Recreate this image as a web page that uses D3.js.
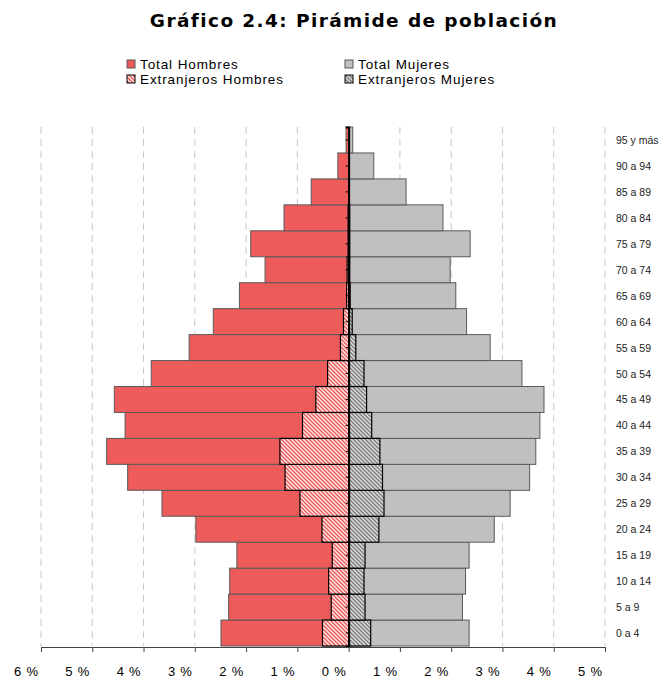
<!DOCTYPE html>
<html>
<head>
<meta charset="utf-8">
<script src="https://cdn.jsdelivr.net/npm/d3@7"></script>
<style>
  body { margin: 0; background: #fff; }
  svg { display: block; }
</style>
</head>
<body>
<div id="chart"></div>
<script>
// age groups, bottom to top
var ageGroups = ["0 a 4","5 a 9","10 a 14","15 a 19","20 a 24","25 a 29","30 a 34","35 a 39","40 a 44","45 a 49",
                 "50 a 54","55 a 59","60 a 64","65 a 69","70 a 74","75 a 79","80 a 84","85 a 89","90 a 94","95 y más"];
// % of population
var totalHombres = [2.49,2.34,2.32,2.18,2.98,3.64,4.31,4.72,4.36,4.57,3.85,3.11,2.64,2.13,1.63,1.91,1.26,0.73,0.21,0.05];
var extHombres   = [0.51,0.34,0.39,0.32,0.52,0.95,1.24,1.34,0.90,0.64,0.41,0.16,0.10,0.04,0.03,0.01,0.01,0.00,0.00,0.00];
var totalMujeres = [2.35,2.22,2.28,2.35,2.84,3.15,3.53,3.65,3.73,3.81,3.38,2.76,2.30,2.09,1.98,2.37,1.84,1.12,0.49,0.08];
var extMujeres   = [0.43,0.32,0.30,0.32,0.59,0.69,0.66,0.61,0.45,0.35,0.30,0.14,0.07,0.03,0.02,0.02,0.02,0.01,0.00,0.00];
var tickVals   = [-6,-5,-4,-3,-2,-1,0,1,2,3,4,5];
var tickLabels = ["6 %","5 %","4 %","3 %","2 %","1 %","0 %","1 %","2 %","3 %","4 %","5 %"];

var W = 663, H = 678;
var svg = d3.select("#chart").append("svg").attr("width", W).attr("height", H);

var red = "#ee5b5b", grey = "#c0c0c0", darkGrey = "#808080";

// hatch patterns
var defs = svg.append("defs");
function hatch(id, bg, fg) {
  var p = defs.append("pattern").attr("id", id)
    .attr("patternUnits", "userSpaceOnUse").attr("width", 4).attr("height", 4);
  p.append("rect").attr("width", 4).attr("height", 4).attr("fill", bg);
  p.append("path").attr("d", "M-1,3 l2,2 M0,0 l4,4 M3,-1 l2,2")
    .attr("stroke", fg).attr("stroke-width", 1.3);
}
hatch("hatchRed", red, "#fff0f0");
hatch("hatchGrey", darkGrey, "#e0e0e0");

var x = d3.scaleLinear().domain([-6, 5]).range([41, 605]);
var y = d3.scaleBand().domain(ageGroups.slice().reverse()).range([127, 646]).padding(0);

// title
svg.append("text").attr("x", 354).attr("y", 27).attr("text-anchor", "middle")
  .style("font-family", "DejaVu Sans, Verdana, sans-serif").style("font-weight", "bold")
  .style("font-size", "18.5px").style("letter-spacing", "1.4px")
  .text("Gráfico 2.4: Pirámide de población");

// legend
var legendItems = [
  {name: "Total Hombres", fill: red, stroke: "#555", cx: 127, cy: 60},
  {name: "Extranjeros Hombres", fill: "url(#hatchRed)", stroke: "#000", cx: 127, cy: 75},
  {name: "Total Mujeres", fill: grey, stroke: "#555", cx: 345, cy: 60},
  {name: "Extranjeros Mujeres", fill: "url(#hatchGrey)", stroke: "#000", cx: 345, cy: 75}
];
var lg = svg.append("g").selectAll("g").data(legendItems).join("g");
lg.append("rect").attr("x", d => d.cx).attr("y", d => d.cy)
  .attr("width", 8).attr("height", 8).attr("fill", d => d.fill).attr("stroke", d => d.stroke).attr("stroke-width", 1);
lg.append("text").attr("x", d => d.cx + 13).attr("y", d => d.cy + 9)
  .style("font-family", "Liberation Sans, Arial, sans-serif").style("font-size", "13.5px")
  .style("letter-spacing", "0.9px").text(d => d.name);

// dashed gridlines
svg.append("g").selectAll("line").data(tickVals.filter(d => d !== 0)).join("line")
  .attr("x1", d => x(d)).attr("x2", d => x(d)).attr("y1", 127).attr("y2", 646)
  .attr("stroke", "#c8c8c8").attr("stroke-width", 1).attr("stroke-dasharray", "7,5");

var idx = d3.range(ageGroups.length);
var bars = svg.append("g");

bars.selectAll(".th").data(idx).join("rect").attr("class", "th")
  .attr("x", i => x(-totalHombres[i])).attr("y", i => y(ageGroups[i]))
  .attr("width", i => x(0) - x(-totalHombres[i])).attr("height", y.bandwidth())
  .attr("fill", red).attr("stroke", "#5a5a5a").attr("stroke-width", 1);

bars.selectAll(".tm").data(idx).join("rect").attr("class", "tm")
  .attr("x", x(0)).attr("y", i => y(ageGroups[i]))
  .attr("width", i => x(totalMujeres[i]) - x(0)).attr("height", y.bandwidth())
  .attr("fill", grey).attr("stroke", "#5a5a5a").attr("stroke-width", 1);

bars.selectAll(".eh").data(idx.filter(i => extHombres[i] > 0)).join("rect").attr("class", "eh")
  .attr("x", i => x(-extHombres[i])).attr("y", i => y(ageGroups[i]))
  .attr("width", i => x(0) - x(-extHombres[i])).attr("height", y.bandwidth())
  .attr("fill", "url(#hatchRed)").attr("stroke", "#000").attr("stroke-width", 1.2);

bars.selectAll(".em").data(idx.filter(i => extMujeres[i] > 0)).join("rect").attr("class", "em")
  .attr("x", x(0)).attr("y", i => y(ageGroups[i]))
  .attr("width", i => x(extMujeres[i]) - x(0)).attr("height", y.bandwidth())
  .attr("fill", "url(#hatchGrey)").attr("stroke", "#000").attr("stroke-width", 1.2);

// centre category axis
var cAxis = svg.append("g").attr("transform", "translate(" + x(0) + ",0)")
  .call(d3.axisLeft(y).tickSize(3).tickFormat(""));
cAxis.select(".domain").attr("stroke", "#000").attr("stroke-width", 2);
cAxis.selectAll(".tick line").attr("stroke", "#000");

// category labels on the right
svg.append("g").selectAll("text").data(ageGroups).join("text")
  .attr("x", 616).attr("y", d => y(d) + y.bandwidth() / 2 + 4)
  .style("font-family", "Liberation Sans, Arial, sans-serif").style("font-size", "10.5px")
  .style("fill", "#222").text(d => d);

// bottom value axis
var bAxis = svg.append("g").attr("transform", "translate(0,647)")
  .call(d3.axisBottom(x).tickValues(tickVals).tickSize(5).tickSizeOuter(0).tickFormat((d, i) => tickLabels[i]));
bAxis.select(".domain").attr("stroke", "#444");
bAxis.selectAll(".tick line").attr("stroke", "#444");
bAxis.selectAll(".tick text").attr("x", -15).attr("y", 20)
  .style("font-family", "Liberation Sans, Arial, sans-serif").style("font-size", "13px")
  .style("letter-spacing", "0.8px").attr("fill", "#000");
</script>
</body>
</html>
